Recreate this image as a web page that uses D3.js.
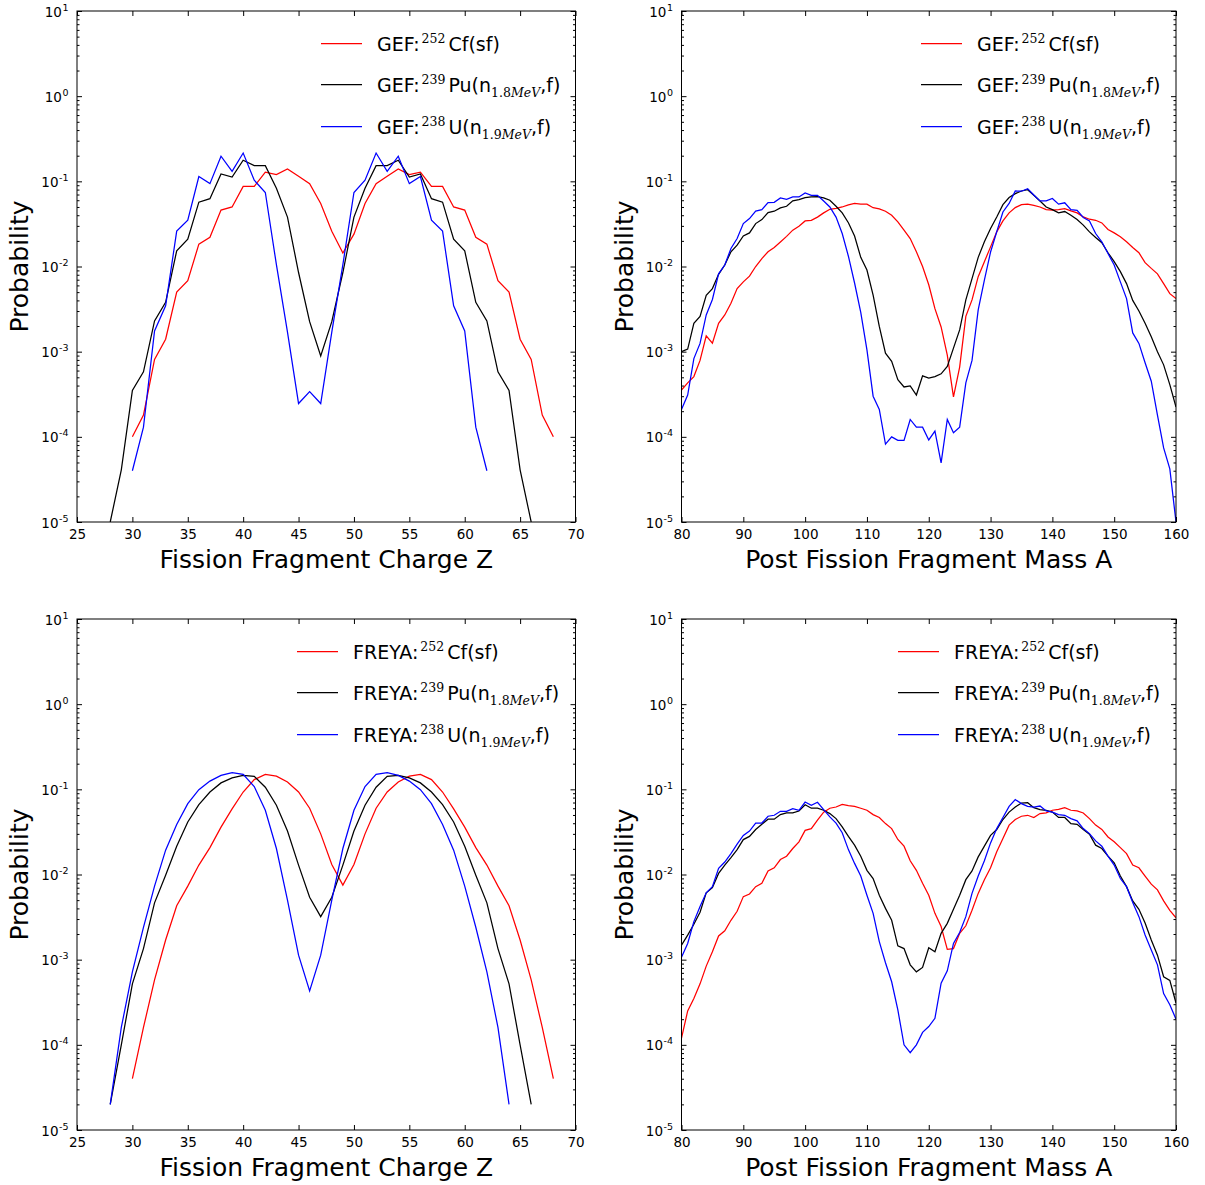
<!DOCTYPE html>
<html><head><meta charset="utf-8">
<script src="https://cdn.jsdelivr.net/npm/d3@7"></script>
<style>body{margin:0;background:#fff}svg{display:block}</style>
</head><body>
<svg id="chart" width="1205" height="1185"></svg>
<script>
// ---------- DATA ----------
const chargeTicks = [25,30,35,40,45,50,55,60,65,70];
const massTicks = [80,90,100,110,120,130,140,150,160];
const yDecades = [1e-5,1e-4,1e-3,1e-2,1e-1,1,10];
const yDecadeExp = ["-5","-4","-3","-2","-1","0","1"];

const zCf = [30,31,32,33,34,35,36,37,38,39,40,41,42,43,44,45,46,47,48,49,50,51,52,53,54,55,56,57,58,59,60,61,62,63,64,65,66,67,68];
const zPu = [28,29,30,31,32,33,34,35,36,37,38,39,40,41,42,43,44,45,46,47,48,49,50,51,52,53,54,55,56,57,58,59,60,61,62,63,64,65,66];
const zUgef = [30,31,32,33,34,35,36,37,38,39,40,41,42,43,44,45,46,47,48,49,50,51,52,53,54,55,56,57,58,59,60,61,62];
const zUfreya = [28,29,30,31,32,33,34,35,36,37,38,39,40,41,42,43,44,45,46,47,48,49,50,51,52,53,54,55,56,57,58,59,60,61,62,63,64];
const massA = [80,81,82,83,84,85,86,87,88,89,90,91,92,93,94,95,96,97,98,99,100,101,102,103,104,105,106,107,108,109,110,111,112,113,114,115,116,117,118,119,120,121,122,123,124,125,126,127,128,129,130,131,132,133,134,135,136,137,138,139,140,141,142,143,144,145,146,147,148,149,150,151,152,153,154,155,156,157,158,159,160];

// GEF charge yields
const gefCfZ = [1.0e-4,1.8e-4,8.1e-4,1.4e-3,5.0e-3,6.8e-3,1.83e-2,2.2e-2,4.6e-2,5.0e-2,8.7e-2,8.7e-2,0.128,0.12,0.14,0.115,0.094,0.055,0.026,0.0144,0.024,0.055,0.094,0.115,0.14,0.12,0.128,0.087,0.087,0.05,0.046,0.022,0.0183,0.0068,0.005,0.0014,8.1e-4,1.8e-4,1.0e-4];
const gefPuZ = [1.0e-5,4.1e-5,3.5e-4,5.8e-4,2.3e-3,3.8e-3,0.0153,0.021,0.057,0.0625,0.122,0.112,0.177,0.153,0.153,0.083,0.038,0.0085,2.25e-3,8.9e-4,2.25e-3,0.0085,0.038,0.083,0.153,0.153,0.177,0.112,0.122,0.0625,0.057,0.021,0.0153,3.8e-3,2.3e-3,5.8e-4,3.5e-4,4.1e-5,1.0e-5];
const gefUZ = [4.0e-5,1.3e-4,1.75e-3,3.45e-3,0.026,0.035,0.114,0.094,0.197,0.131,0.215,0.103,0.074,0.0105,1.7e-3,2.46e-4,3.4e-4,2.46e-4,1.7e-3,0.0105,0.074,0.103,0.215,0.131,0.197,0.094,0.114,0.035,0.026,3.45e-3,1.75e-3,1.3e-4,4.0e-5];

// FREYA charge yields
const freyaCfZ = [4.0e-5,1.6e-4,5.8e-4,1.7e-3,4.3e-3,7.3e-3,0.0129,0.0207,0.036,0.059,0.093,0.13,0.15,0.143,0.122,0.093,0.060,0.030,0.0131,7.5e-3,0.0131,0.030,0.060,0.093,0.122,0.143,0.15,0.13,0.093,0.059,0.036,0.0207,0.0129,7.3e-3,4.3e-3,1.7e-3,5.8e-4,1.6e-4,4.0e-5];
const freyaPuZ = [2.0e-5,1.0e-4,5.2e-4,1.35e-3,4.65e-3,9.8e-3,0.0214,0.0414,0.066,0.093,0.119,0.136,0.146,0.142,0.106,0.065,0.0324,0.0129,5.4e-3,3.2e-3,5.4e-3,0.0129,0.0324,0.065,0.106,0.142,0.146,0.136,0.119,0.093,0.066,0.0414,0.0214,9.8e-3,4.65e-3,1.35e-3,5.2e-4,1.0e-4,2.0e-5];
const freyaUZ = [2.0e-5,1.6e-4,7.2e-4,2.4e-3,7.3e-3,0.0193,0.0386,0.068,0.099,0.125,0.146,0.157,0.15,0.108,0.0568,0.0202,5.0e-3,1.13e-3,4.3e-4,1.13e-3,5.0e-3,0.0202,0.0568,0.108,0.15,0.157,0.146,0.125,0.099,0.068,0.0386,0.0193,7.3e-3,2.4e-3,7.2e-4,1.6e-4,2.0e-5];

// GEF post-fission mass yields (A = 80..160)
const gefCfA = [3.55e-4,4.3e-4,5.1e-4,7.9e-4,1.53e-3,1.26e-3,2.15e-3,2.7e-3,3.7e-3,5.5e-3,
 6.6e-3,7.7e-3,0.010,0.0124,0.0149,0.0167,0.0194,0.0226,0.0267,0.0297,
 0.0343,0.0349,0.038,0.0426,0.047,0.048,0.050,0.0528,0.055,0.054,
 0.054,0.049,0.0474,0.0445,0.040,0.0334,0.0267,0.0213,0.0149,0.010,
 6.1e-3,3.2e-3,1.95e-3,9.1e-4,2.95e-4,6.6e-4,2.6e-3,4.05e-3,7.6e-3,0.0114,
 0.017,0.0255,0.0343,0.0426,0.0492,0.0533,0.054,0.0523,0.050,0.0466,
 0.0458,0.0466,0.0479,0.045,0.0426,0.0382,0.0359,0.0349,0.0325,0.0272,
 0.0248,0.0223,0.0195,0.0167,0.0145,0.0111,0.0095,0.0082,0.0063,0.0048,0.0042];
const gefPuA = [1.0e-3,1.07e-3,2.15e-3,2.6e-3,4.6e-3,5.5e-3,8.1e-3,0.0104,0.0149,0.0178,
 0.0228,0.0248,0.0319,0.0355,0.043,0.0446,0.0487,0.051,0.059,0.061,
 0.0644,0.0655,0.066,0.064,0.060,0.051,0.0426,0.0326,0.0228,0.0128,
 0.0091,0.0046,0.00198,9.6e-4,7.7e-4,4.7e-4,3.85e-4,3.97e-4,3.1e-4,5.2e-4,
 4.9e-4,5.1e-4,5.5e-4,6.7e-4,1.1e-3,1.8e-3,4.05e-3,7.2e-3,0.0128,0.0195,
 0.0279,0.0382,0.0533,0.0645,0.0717,0.077,0.0798,0.0686,0.0588,0.050,
 0.0466,0.0426,0.0442,0.040,0.0356,0.0306,0.0255,0.0219,0.019,0.0145,
 0.0114,0.0087,0.0063,0.0040,0.0030,0.00216,0.0015,0.001,7.0e-4,4.1e-4,2.24e-4];
const gefUA = [2.1e-4,3.1e-4,8.3e-4,1.25e-3,2.7e-3,4.1e-3,8.2e-3,0.0104,0.0163,0.0213,
 0.0319,0.0365,0.0448,0.0466,0.0562,0.0567,0.0638,0.0615,0.0655,0.0655,
 0.073,0.0686,0.0686,0.0588,0.050,0.038,0.0244,0.0132,6.4e-3,2.9e-3,
 1.05e-3,3.0e-4,2.1e-4,8.2e-5,1.0e-4,9.1e-5,9.1e-5,1.6e-4,1.3e-4,1.3e-4,
 9.2e-5,1.17e-4,4.95e-5,1.6e-4,1.12e-4,1.3e-4,4.3e-4,7.9e-4,3.1e-3,6.9e-3,
 0.0148,0.0256,0.0437,0.055,0.077,0.0765,0.082,0.069,0.059,0.059,
 0.063,0.054,0.056,0.0466,0.0457,0.0376,0.0343,0.0244,0.0195,0.0142,
 0.0104,0.0066,0.0042,0.00166,0.00125,7.4e-4,4.5e-4,1.8e-4,7.4e-5,4.2e-5,1.0e-5];

// FREYA post-fission mass yields (A = 80..160)
const freyaCfA = [1.2e-4,2.5e-4,3.5e-4,5.2e-4,8.4e-4,1.24e-3,1.9e-3,2.18e-3,2.9e-3,3.7e-3,
 5.5e-3,5.9e-3,7.2e-3,7.9e-3,0.011,0.012,0.015,0.0164,0.0202,0.0242,
 0.033,0.0346,0.0434,0.054,0.060,0.062,0.0667,0.0643,0.063,0.060,
 0.0568,0.0505,0.0467,0.0396,0.0346,0.0258,0.0215,0.0145,0.0112,7.9e-3,
 5.7e-3,3.5e-3,2.45e-3,1.32e-3,1.35e-3,2.04e-3,2.5e-3,3.8e-3,6.0e-3,8.7e-3,
 0.012,0.0185,0.0264,0.038,0.0442,0.0483,0.0496,0.0467,0.0519,0.053,
 0.0568,0.0583,0.061,0.0568,0.0557,0.0528,0.0453,0.038,0.0338,0.0276,
 0.0242,0.0207,0.0176,0.0129,0.012,9.6e-3,7.7e-3,6.6e-3,4.9e-3,3.8e-3,3.1e-3];
const freyaPuA = [1.48e-3,1.94e-3,2.6e-3,3.6e-3,6.1e-3,7.0e-3,0.0103,0.0129,0.0158,0.0196,
 0.0257,0.028,0.0337,0.039,0.0446,0.0446,0.0505,0.0528,0.053,0.0557,
 0.066,0.060,0.060,0.0568,0.0519,0.0453,0.0362,0.028,0.0221,0.0164,
 0.0112,8.97e-3,5.7e-3,4.0e-3,2.9e-3,1.45e-3,1.35e-3,8.7e-4,7.2e-4,8.1e-4,
 1.38e-3,1.24e-3,2.04e-3,2.67e-3,3.9e-3,5.7e-3,8.7e-3,0.011,0.0161,0.0215,
 0.0288,0.0337,0.0442,0.054,0.062,0.069,0.0697,0.061,0.0578,0.0568,
 0.054,0.0467,0.0467,0.0396,0.0389,0.0337,0.0297,0.0221,0.0202,0.0164,
 0.0137,9.6e-3,7.2e-3,4.9e-3,3.9e-3,2.7e-3,1.7e-3,1.13e-3,6.3e-4,5.7e-4,3.1e-4];
const freyaUA = [1.07e-3,1.55e-3,2.8e-3,4.2e-3,6.1e-3,7.2e-3,0.0118,0.014,0.0176,0.0227,
 0.0288,0.0324,0.0402,0.0402,0.0483,0.0496,0.0552,0.0552,0.0593,0.0568,
 0.071,0.065,0.0705,0.0578,0.0474,0.0402,0.0309,0.0196,0.0135,9.6e-3,
 5.7e-3,3.5e-3,1.63e-3,9.2e-4,5.5e-4,2.57e-4,1.0e-4,8.1e-5,1.0e-4,1.4e-4,
 1.64e-4,2.05e-4,5.3e-4,7.4e-4,1.55e-3,2.08e-3,3.2e-3,6.0e-3,9.6e-3,0.0145,
 0.0235,0.0346,0.0467,0.063,0.0757,0.068,0.063,0.062,0.0637,0.0557,
 0.054,0.0505,0.0496,0.0453,0.0426,0.0346,0.0302,0.0248,0.0215,0.0164,
 0.0129,8.97e-3,7.2e-3,4.7e-3,3.2e-3,1.95e-3,1.3e-3,8.7e-4,4.0e-4,2.95e-4,2.0e-4];

const seriesColors = ["#ff0000","#000000","#0000ff"];
const isotopeLabels = [
  {mass:"252", head:"Cf(sf)"},
  {mass:"239", head:"Pu(n", subNum:"1.8", subUnit:"MeV", tail:",f)"},
  {mass:"238", head:"U(n", subNum:"1.9", subUnit:"MeV", tail:",f)"}
];
const yTitle = "Probability";
const xTitleCharge = "Fission Fragment Charge Z";
const xTitleMass = "Post Fission Fragment Mass A";

// ---------- LAYOUT ----------
const svg = d3.select("#chart");
const SANS = "'DejaVu Sans', 'Bitstream Vera Sans', sans-serif";
const SERIF = "'DejaVu Serif', 'Liberation Serif', serif";

const panels = [
  {x0:77, x1:575.5, y0:11, y1:522, dom:[25,70], ticks:chargeTicks, title:xTitleCharge, prefix:"GEF:", legendOff:254.5,
   series:[[zCf,gefCfZ],[zPu,gefPuZ],[zUgef,gefUZ]]},
  {x0:681.5, x1:1176, y0:11, y1:522, dom:[80,160], ticks:massTicks, title:xTitleMass, prefix:"GEF:", legendOff:255,
   series:[[massA,gefCfA],[massA,gefPuA],[massA,gefUA]]},
  {x0:77, x1:575.5, y0:619, y1:1130, dom:[25,70], ticks:chargeTicks, title:xTitleCharge, prefix:"FREYA:", legendOff:278.5,
   series:[[zCf,freyaCfZ],[zPu,freyaPuZ],[zUfreya,freyaUZ]]},
  {x0:681.5, x1:1176, y0:619, y1:1130, dom:[80,160], ticks:massTicks, title:xTitleMass, prefix:"FREYA:", legendOff:278,
   series:[[massA,freyaCfA],[massA,freyaPuA],[massA,freyaUA]]}
];

const minorVals = [];
yDecades.slice(0,-1).forEach(d => { for (let k=2;k<=9;k++) minorVals.push(d*k); });

panels.forEach((p, pi) => {
  const g = svg.append("g");
  const x = d3.scaleLinear().domain(p.dom).range([p.x0, p.x1]);
  const y = d3.scaleLog().domain([1e-5, 10]).range([p.y1, p.y0]);

  const clipId = "clip" + pi;
  svg.append("clipPath").attr("id", clipId).append("rect")
    .attr("x", p.x0).attr("y", p.y0).attr("width", p.x1 - p.x0).attr("height", p.y1 - p.y0);

  // data lines
  const line = d3.line().x(d => x(d[0])).y(d => y(d[1]));
  p.series.forEach((s, si) => {
    const pts = s[0].map((v, i) => [v, s[1][i]]);
    g.append("path").datum(pts).attr("d", line)
      .attr("fill", "none").attr("stroke", seriesColors[si]).attr("stroke-width", 1.25)
      .attr("stroke-linejoin", "miter").attr("clip-path", `url(#${clipId})`);
  });

  // axes (inward ticks on all four sides)
  const styleAxis = sel => {
    sel.select(".domain").remove();
    sel.selectAll(".tick line").attr("stroke", "#000").attr("stroke-width", 1);
  };
  g.append("g").attr("transform", `translate(0,${p.y1})`)
    .call(d3.axisBottom(x).tickValues(p.ticks).tickSizeInner(-5).tickSizeOuter(0).tickPadding(7.5).tickFormat(d3.format("d")))
    .call(styleAxis)
    .call(a => a.selectAll("text").attr("font-family", SANS).attr("font-size", 13.5).attr("fill", "#000"));
  g.append("g").attr("transform", `translate(0,${p.y0})`)
    .call(d3.axisTop(x).tickValues(p.ticks).tickSizeInner(-5).tickSizeOuter(0).tickFormat(""))
    .call(styleAxis);
  g.append("g").attr("transform", `translate(${p.x0},0)`)
    .call(d3.axisLeft(y).tickValues(yDecades).tickSizeInner(-5).tickSizeOuter(0).tickFormat(""))
    .call(styleAxis);
  g.append("g").attr("transform", `translate(${p.x0},0)`)
    .call(d3.axisLeft(y).tickValues(minorVals).tickSizeInner(-2.5).tickSizeOuter(0).tickFormat(""))
    .call(styleAxis);
  g.append("g").attr("transform", `translate(${p.x1},0)`)
    .call(d3.axisRight(y).tickValues(yDecades).tickSizeInner(-5).tickSizeOuter(0).tickFormat(""))
    .call(styleAxis);
  g.append("g").attr("transform", `translate(${p.x1},0)`)
    .call(d3.axisRight(y).tickValues(minorVals).tickSizeInner(-2.5).tickSizeOuter(0).tickFormat(""))
    .call(styleAxis);

  // y tick labels with superscript exponents
  yDecades.forEach((d, i) => {
    const t = g.append("text").attr("x", p.x0 - 8.5).attr("y", y(d) + 5.5)
      .attr("text-anchor", "end").attr("font-family", SANS).attr("font-size", 13.5).attr("fill", "#000");
    t.append("tspan").text("10");
    t.append("tspan").attr("dy", -6).attr("dx", 0.5).attr("font-size", 9.5).text(yDecadeExp[i]);
  });

  // frame
  g.append("rect").attr("x", p.x0).attr("y", p.y0).attr("width", p.x1 - p.x0).attr("height", p.y1 - p.y0)
    .attr("fill", "none").attr("stroke", "#000").attr("stroke-width", 1);

  // axis titles
  g.append("text").attr("x", (p.x0 + p.x1) / 2).attr("y", p.y1 + 46)
    .attr("text-anchor", "middle").attr("font-family", SANS).attr("font-size", 25).attr("fill", "#000")
    .text(p.title);
  g.append("text").attr("transform", `translate(${p.x0 - 49},${(p.y0 + p.y1) / 2}) rotate(-90)`)
    .attr("text-anchor", "middle").attr("font-family", SANS).attr("font-size", 25).attr("fill", "#000")
    .text(yTitle);

  // legend (no frame)
  const lx = p.x1 - p.legendOff;
  const rows = [32.5, 73.5, 115.5];
  isotopeLabels.forEach((lab, si) => {
    const ly = p.y0 + rows[si];
    g.append("line").attr("x1", lx).attr("x2", lx + 41).attr("y1", ly).attr("y2", ly)
      .attr("stroke", seriesColors[si]).attr("stroke-width", 1.25);
    const t = g.append("text").attr("x", lx + 56).attr("y", ly + 7)
      .attr("font-family", SANS).attr("font-size", 19).attr("fill", "#000");
    t.append("tspan").text(p.prefix);
    t.append("tspan").attr("dx", 2).attr("dy", -8).attr("font-family", SERIF).attr("font-size", 12.5).text(lab.mass);
    t.append("tspan").attr("dx", 3).attr("dy", 8).text(lab.head);
    if (lab.subNum) {
      t.append("tspan").attr("dy", 5).attr("font-family", SERIF).attr("font-size", 12.5).text(lab.subNum);
      t.append("tspan").attr("font-family", SERIF).attr("font-style", "italic").attr("font-size", 12.5).text(lab.subUnit);
      t.append("tspan").attr("dy", -5).text(lab.tail);
    }
  });
});
</script>
</body></html>
